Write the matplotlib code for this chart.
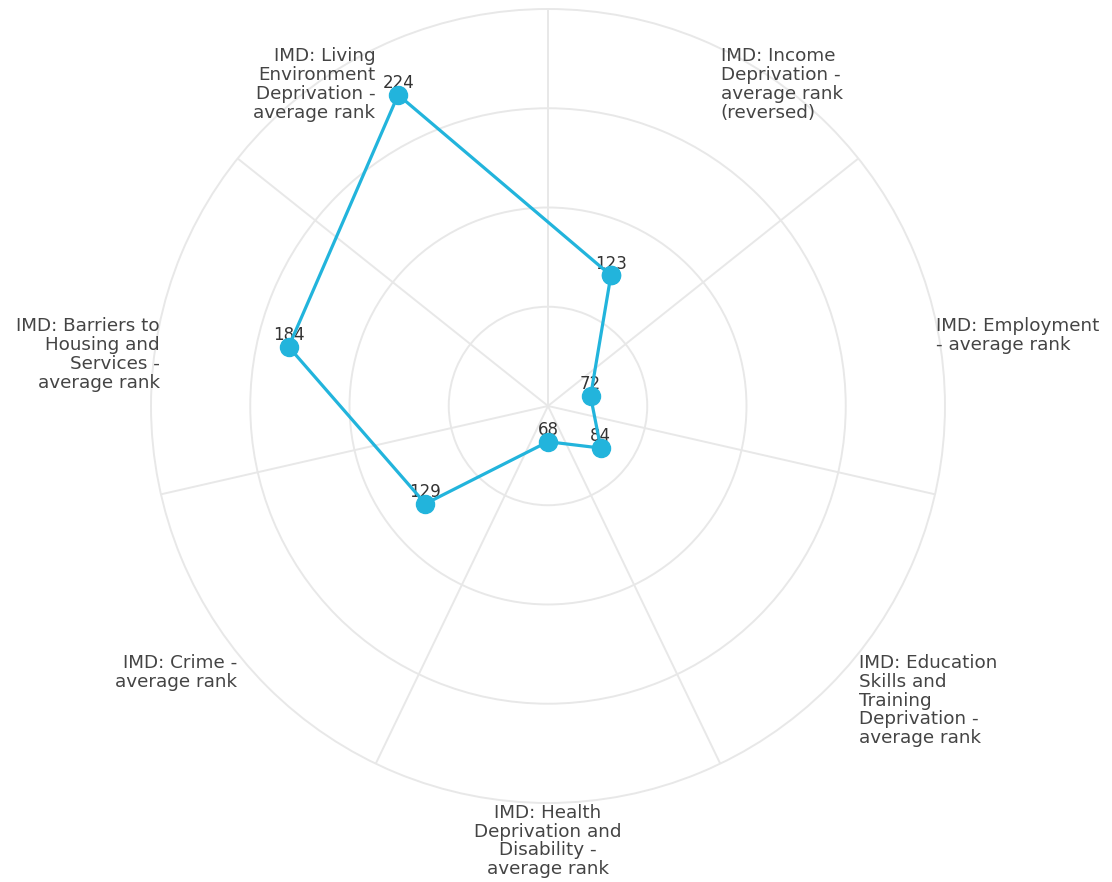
import textwrap
import numpy as np
import matplotlib
matplotlib.use("Agg")
import matplotlib.pyplot as plt

# data
categories = [
    "IMD: Income Deprivation - average rank (reversed)",
    "IMD: Employment - average rank",
    "IMD: Education Skills and Training Deprivation - average rank",
    "IMD: Health Deprivation and Disability - average rank",
    "IMD: Crime - average rank",
    "IMD: Barriers to Housing and Services - average rank",
    "IMD: Living Environment Deprivation - average rank",
]
values = [123, 72, 84, 68, 129, 184, 224]
radial_ticks = [100, 150, 200, 250]

line_color = "#22b4dc"
n = len(categories)
step = 2 * np.pi / n
angles = [(i + 0.5) * step for i in range(n)]
spokes = [i * step for i in range(n)]

fig = plt.figure(figsize=(11.12, 8.82), dpi=100)
ax = fig.add_axes([0.1358, 0.0896, 0.7140, 0.9002], projection="polar")
ax.set_theta_offset(np.pi / 2)
ax.set_theta_direction(-1)
ax.set_ylim(50, 250)

ax.set_xticks(spokes)
ax.set_xticklabels([])
ax.set_yticks(radial_ticks)
ax.set_yticklabels([])
ax.grid(True, color="#e8e8e8", linewidth=1.4)
for gl in ax.yaxis.get_gridlines():
    gl.set_clip_on(False)
ax.spines["polar"].set_visible(False)
ax.tick_params(length=0)

ax.plot(angles + angles[:1], values + values[:1], color=line_color,
        linewidth=2.3, marker="o", markersize=13, zorder=3, clip_on=False)

for a, v in zip(angles, values):
    ax.annotate(str(v), (a, v), xytext=(0, 2), textcoords="offset points",
                ha="center", va="bottom", fontsize=12, color="#333333", zorder=2)

for a, lab in zip(angles, categories):
    deg = np.degrees(a)
    if abs(deg - 180) < 1:
        ha = "center"
    elif deg < 180:
        ha = "left"
    else:
        ha = "right"
    ax.text(a, 250.5, textwrap.fill(lab, 16), ha=ha, va="top", fontsize=13.2,
            color="#444444", linespacing=1.05, clip_on=False)

fig.savefig("out.png", dpi=100)
